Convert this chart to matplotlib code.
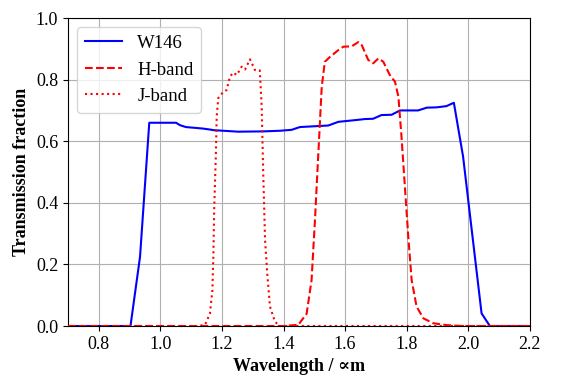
import matplotlib
matplotlib.use("Agg")
import matplotlib.pyplot as plt

# W146 filtresi
w146_dalga = [0.70, 0.903, 0.934, 0.964, 1.051, 1.064, 1.083, 1.129, 1.139, 1.161, 1.172,
              1.253, 1.334, 1.388, 1.426, 1.453, 1.507, 1.545, 1.578, 1.637, 1.664,
              1.691, 1.718, 1.751, 1.778, 1.837, 1.865, 1.897, 1.929, 1.953, 1.983,
              2.043, 2.070, 2.20]
w146_gecis = [0.0, 0.0, 0.225, 0.660, 0.660, 0.652, 0.646, 0.642, 0.641, 0.638, 0.636,
              0.631, 0.632, 0.634, 0.637, 0.646, 0.649, 0.651, 0.663, 0.669, 0.672,
              0.673, 0.685, 0.686, 0.700, 0.700, 0.709, 0.710, 0.714, 0.725, 0.550,
              0.041, 0.0, 0.0]

# H-band
h_dalga = [0.70, 1.40, 1.448, 1.475, 1.491, 1.502, 1.513, 1.524, 1.534, 1.551, 1.578,
           1.594, 1.621, 1.643, 1.654, 1.675, 1.691, 1.708, 1.724, 1.745, 1.762,
           1.773, 1.783, 1.794, 1.805, 1.816, 1.832, 1.854, 1.886, 1.929, 1.98, 2.20]
h_gecis = [0.0, 0.0, 0.004, 0.040, 0.149, 0.344, 0.561, 0.777, 0.858, 0.874, 0.896,
           0.907, 0.908, 0.922, 0.912, 0.864, 0.853, 0.869, 0.858, 0.815, 0.793,
           0.744, 0.615, 0.452, 0.290, 0.149, 0.063, 0.025, 0.009, 0.003, 0.0, 0.0]

# J-band
j_dalga = [0.70, 1.12, 1.145, 1.161, 1.169, 1.172, 1.175, 1.180, 1.183, 1.188, 1.204,
           1.215, 1.226, 1.237, 1.248, 1.264, 1.275, 1.291, 1.300, 1.307, 1.323,
           1.329, 1.334, 1.340, 1.347, 1.356, 1.372, 1.388, 2.20]
j_gecis = [0.0, 0.0, 0.004, 0.040, 0.117, 0.225, 0.387, 0.550, 0.680, 0.740, 0.760,
           0.766, 0.810, 0.823, 0.815, 0.842, 0.833, 0.866, 0.847, 0.831, 0.830,
           0.712, 0.496, 0.279, 0.171, 0.063, 0.014, 0.0, 0.0]

plt.rcParams['font.family'] = ['Liberation Serif', 'DejaVu Serif']

fig = plt.figure(figsize=(5.76, 3.84), dpi=100)
ax = fig.add_axes([0.118, 0.151, 0.802, 0.802])

ax.plot(w146_dalga, w146_gecis, color='blue', lw=1.5, label='W146', zorder=3)
ax.plot(h_dalga, h_gecis, color='red', ls='--', lw=1.5, label='H-band', zorder=3)
ax.plot(j_dalga, j_gecis, color='red', ls=':', lw=1.5, label='J-band', zorder=3)

ax.set_xlim(0.7, 2.2)
ax.set_ylim(0.0, 1.0)
ax.set_xticks([0.8, 1.0, 1.2, 1.4, 1.6, 1.8, 2.0, 2.2])
ax.set_yticks([0.0, 0.2, 0.4, 0.6, 0.8, 1.0])
ax.tick_params(labelsize=13)
ax.grid(True, color='#b0b0b0', lw=0.8)

ax.set_xlabel('Wavelength / ∝m', fontsize=13, fontweight='bold')
ax.set_ylabel('Transmission fraction', fontsize=13, fontweight='bold')

ax.legend(loc='upper left', fontsize=13.5)

fig.savefig('out.png', dpi=100)
